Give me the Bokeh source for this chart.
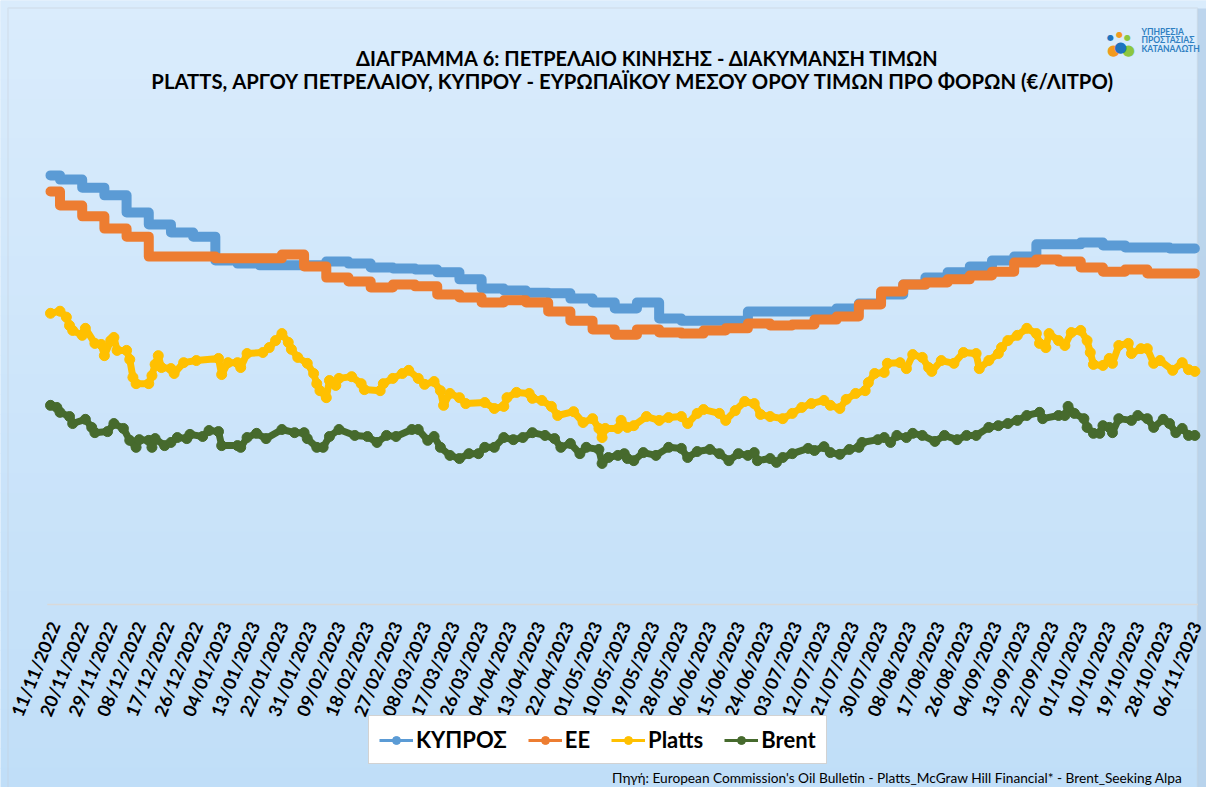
from bokeh.plotting import figure
from bokeh.models import (Range1d, Label, BoxAnnotation, Legend,
                          LegendItem, ColumnDataSource)
from bokeh.embed import file_html
from bokeh.resources import INLINE
from bokeh.core.properties import value

# ---------------- data ----------------
tick_labels = ["11/11/2022", "20/11/2022", "29/11/2022", "08/12/2022", "17/12/2022",
               "26/12/2022", "04/01/2023", "13/01/2023", "22/01/2023", "31/01/2023",
               "09/02/2023", "18/02/2023", "27/02/2023", "08/03/2023", "17/03/2023",
               "26/03/2023", "04/04/2023", "13/04/2023", "22/04/2023", "01/05/2023",
               "10/05/2023", "19/05/2023", "28/05/2023", "06/06/2023", "15/06/2023",
               "24/06/2023", "03/07/2023", "12/07/2023", "21/07/2023", "30/07/2023",
               "08/08/2023", "17/08/2023", "26/08/2023", "04/09/2023", "13/09/2023",
               "22/09/2023", "01/10/2023", "10/10/2023", "19/10/2023", "28/10/2023",
               "06/11/2023"]
tick_step_days = 9
last_day = 361

# weekly Oil Bulletin values (first entry: 11/11-13/11, then weeks starting Monday 14/11/2022)
kypros_weekly = [1.226, 1.214, 1.191, 1.169, 1.120, 1.086, 1.063, 1.051, 0.983, 0.974,
                 0.969, 0.969, 0.969, 0.980, 0.974, 0.963, 0.960, 0.957, 0.949, 0.929,
                 0.903, 0.897, 0.891, 0.889, 0.874, 0.863, 0.846, 0.863, 0.817, 0.811,
                 0.811, 0.811, 0.837, 0.837, 0.837, 0.837, 0.846, 0.860, 0.886, 0.914,
                 0.934, 0.949, 0.966, 0.983, 0.994, 1.029, 1.029, 1.034, 1.026, 1.020,
                 1.020, 1.017, 1.017]
ee_weekly = [1.180, 1.140, 1.109, 1.074, 1.051, 0.994, 0.994, 0.994, 0.989, 0.989,
             0.989, 1.000, 0.966, 0.934, 0.923, 0.906, 0.914, 0.909, 0.886, 0.877,
             0.863, 0.869, 0.863, 0.837, 0.811, 0.786, 0.771, 0.786, 0.777, 0.774,
             0.783, 0.789, 0.803, 0.797, 0.800, 0.814, 0.823, 0.857, 0.894, 0.914,
             0.920, 0.929, 0.940, 0.951, 0.977, 0.986, 0.980, 0.963, 0.951, 0.957,
             0.946, 0.946, 0.946]

# (day since 11/11/2022, €/litre)
platts = [(0, 0.832), (3, 0.838), (5, 0.821), (6, 0.797), (7, 0.783), (10, 0.769), (11, 0.789),
          (14, 0.746), (16, 0.743), (17, 0.711), (19, 0.754), (20, 0.763), (21, 0.726), (24, 0.726),
          (25, 0.700), (26, 0.649), (27, 0.631), (31, 0.631), (32, 0.654), (33, 0.686), (34, 0.711),
          (35, 0.677), (38, 0.674), (39, 0.660), (42, 0.691), (46, 0.697), (53, 0.703), (54, 0.657),
          (56, 0.691), (59, 0.691), (60, 0.677), (62, 0.717), (67, 0.720), (69, 0.734), (71, 0.754),
          (73, 0.774), (75, 0.749), (76, 0.729), (78, 0.706), (81, 0.689), (83, 0.660), (84, 0.631),
          (85, 0.611), (87, 0.591), (88, 0.640), (90, 0.626), (91, 0.646), (95, 0.651), (98, 0.631),
          (99, 0.614), (104, 0.611), (105, 0.631), (108, 0.646), (111, 0.660), (113, 0.669),
          (116, 0.646), (118, 0.629), (121, 0.637), (123, 0.611), (124, 0.569), (126, 0.603),
          (129, 0.591), (131, 0.574), (137, 0.577), (140, 0.560), (143, 0.566), (144, 0.591),
          (147, 0.606), (151, 0.603), (152, 0.589), (155, 0.583), (158, 0.566), (160, 0.540),
          (165, 0.551), (168, 0.520), (171, 0.531), (173, 0.503), (174, 0.477), (175, 0.503),
          (179, 0.503), (180, 0.526), (182, 0.506), (184, 0.511), (188, 0.537), (192, 0.526),
          (195, 0.534), (199, 0.537), (201, 0.517), (204, 0.546), (206, 0.557), (211, 0.546),
          (213, 0.526), (216, 0.554), (219, 0.580), (222, 0.574), (224, 0.543), (227, 0.537),
          (231, 0.531), (234, 0.546), (237, 0.563), (240, 0.574), (244, 0.583), (246, 0.569),
          (249, 0.560), (251, 0.586), (254, 0.603), (257, 0.611), (258, 0.634), (260, 0.660),
          (263, 0.663), (264, 0.689), (268, 0.691), (270, 0.674), (272, 0.714), (275, 0.706),
          (277, 0.677), (278, 0.666), (281, 0.697), (285, 0.689), (288, 0.720), (292, 0.717),
          (293, 0.674), (296, 0.697), (299, 0.717), (300, 0.734), (302, 0.754), (305, 0.769),
          (308, 0.789), (311, 0.774), (312, 0.746), (314, 0.734), (315, 0.774), (318, 0.754),
          (320, 0.740), (322, 0.777), (325, 0.783), (327, 0.754), (328, 0.720), (329, 0.686),
          (332, 0.683), (334, 0.703), (335, 0.689), (337, 0.740), (340, 0.746), (341, 0.717),
          (344, 0.731), (346, 0.731), (348, 0.689), (350, 0.697), (354, 0.669), (357, 0.691),
          (359, 0.671), (361, 0.666)]
brent = [(0, 0.569), (2, 0.563), (3, 0.549), (6, 0.537), (7, 0.517), (11, 0.529), (13, 0.506),
         (14, 0.491), (18, 0.494), (20, 0.517), (23, 0.503), (25, 0.469), (27, 0.449), (28, 0.471),
         (31, 0.469), (32, 0.449), (33, 0.474), (36, 0.454), (38, 0.463), (40, 0.477), (43, 0.474),
         (44, 0.486), (48, 0.480), (50, 0.497), (53, 0.494), (54, 0.454), (59, 0.454), (60, 0.449),
         (62, 0.477), (65, 0.489), (68, 0.474), (73, 0.500), (77, 0.491), (80, 0.491), (81, 0.474),
         (84, 0.449), (86, 0.449), (88, 0.480), (91, 0.500), (96, 0.483), (100, 0.480), (103, 0.463),
         (106, 0.483), (109, 0.480), (114, 0.500), (116, 0.500), (119, 0.469), (121, 0.480),
         (123, 0.449), (126, 0.426), (129, 0.417), (132, 0.431), (135, 0.431), (137, 0.449),
         (140, 0.449), (143, 0.477), (146, 0.471), (149, 0.477), (152, 0.491), (156, 0.483),
         (159, 0.474), (161, 0.449), (164, 0.460), (167, 0.431), (169, 0.449), (173, 0.443),
         (174, 0.403), (176, 0.420), (179, 0.426), (181, 0.431), (182, 0.417), (184, 0.411),
         (187, 0.434), (191, 0.426), (195, 0.449), (199, 0.446), (201, 0.420), (204, 0.437),
         (208, 0.443), (211, 0.431), (214, 0.411), (217, 0.431), (220, 0.426), (222, 0.434),
         (223, 0.411), (227, 0.417), (229, 0.406), (231, 0.420), (234, 0.431), (239, 0.446),
         (241, 0.440), (244, 0.451), (246, 0.434), (249, 0.429), (252, 0.443), (255, 0.449),
         (256, 0.463), (261, 0.471), (263, 0.477), (265, 0.463), (267, 0.483), (270, 0.477),
         (272, 0.489), (275, 0.483), (279, 0.466), (282, 0.483), (286, 0.471), (289, 0.483),
         (292, 0.483), (296, 0.506), (299, 0.511), (302, 0.517), (305, 0.526), (308, 0.540),
         (312, 0.549), (313, 0.531), (318, 0.540), (320, 0.540), (321, 0.566), (323, 0.546),
         (326, 0.531), (327, 0.506), (329, 0.489), (331, 0.489), (332, 0.511), (334, 0.506),
         (335, 0.491), (337, 0.531), (341, 0.526), (343, 0.540), (346, 0.531), (348, 0.506),
         (351, 0.529), (353, 0.517), (355, 0.491), (357, 0.503), (359, 0.483), (361, 0.483)]

series_names = ["ΚΥΠΡΟΣ", "ΕΕ", "Platts", "Brent"]
series_colors = ["#5b9bd5", "#ed7d31", "#ffc000", "#466a2d"]

title_1 = "ΔΙΑΓΡΑΜΜΑ 6: ΠΕΤΡΕΛΑΙΟ ΚΙΝΗΣΗΣ - ΔΙΑΚΥΜΑΝΣΗ ΤΙΜΩΝ"
title_2 = "PLATTS, ΑΡΓΟΥ ΠΕΤΡΕΛΑΙΟΥ, ΚΥΠΡΟΥ - ΕΥΡΩΠΑΪΚΟΥ ΜΕΣΟΥ ΟΡΟΥ ΤΙΜΩΝ ΠΡΟ ΦΟΡΩΝ (€/ΛΙΤΡΟ)"
source_text = ("Πηγή: European Commission's Oil Bulletin - Platts_McGraw Hill Financial* "
               "- Brent_Seeking Alpa")
logo_lines = ["ΥΠΗΡΕΣΙΑ", "ΠΡΟΣΤΑΣΙΑΣ", "ΚΑΤΑΝΑΛΩΤΗ"]

# ---------------- layout ----------------
# Bokeh's page template has no body margin, so the figure starts at the window's corner
W, H = 1206, 787
FONT = "Lato"


def sx(px):
    return px


def sy(py):
    return H - py


# data scale: day 0 at x 50, 3.17 px/day; value 0 at y 604, 350 px per €/l
x_lo = (0 - 50) / 3.17
x_hi = (W - 50) / 3.17
y_lo = (604 - H) / 350
y_hi = (604 - 0) / 350

p = figure(width=W, height=H, output_backend="svg", toolbar_location=None,
           x_range=Range1d(x_lo, x_hi), y_range=Range1d(y_lo, y_hi),
           x_axis_location=None, y_axis_location=None,
           min_border_left=0, min_border_right=0, min_border_top=0, min_border_bottom=0)
p.grid.visible = False
p.outline_line_color = None
p.background_fill_color = "#cde5fa"
p.border_fill_color = "#cde5fa"

# gradient background
top_c = (218, 236, 252)
bot_c = (192, 222, 248)
n = 40
for i in range(n):
    a = H * i / n
    b = H * (i + 1) / n + 1
    t = (i + 0.5) / n
    c = tuple(int(round(top_c[k] + (bot_c[k] - top_c[k]) * t)) for k in range(3))
    p.add_layout(BoxAnnotation(left=0, right=W, top=H - a, bottom=H - b,
                               left_units="screen", right_units="screen",
                               top_units="screen", bottom_units="screen",
                               fill_color="#%02x%02x%02x" % c, fill_alpha=1,
                               line_color=None, level="underlay"))
# right-hand shadow and frame border
p.add_layout(BoxAnnotation(left=sx(1197), right=W, top=sy(8), bottom=0,
                           left_units="screen", right_units="screen",
                           top_units="screen", bottom_units="screen",
                           fill_color="#b5cfe8", fill_alpha=0.8, line_color=None,
                           level="underlay"))
p.add_layout(BoxAnnotation(left=sx(7.5), right=sx(1197), top=sy(7.5), bottom=-2,
                           left_units="screen", right_units="screen",
                           top_units="screen", bottom_units="screen",
                           fill_alpha=0, line_color="#c4c9cf", line_width=1.5,
                           level="underlay"))

# x axis line and rotated tick labels
ticks = [tick_step_days * i for i in range(len(tick_labels))]
p.segment(x0=[-1], y0=[0], x1=[last_day + 1], y1=[0], line_color="#d9d9d9", line_width=1.5)
p.text(x=ticks, y=[0] * len(ticks), text=tick_labels, angle=1.18,
       text_align="right", text_baseline="middle", x_offset=4, y_offset=18,
       text_font=value(FONT), text_font_style="bold", text_font_size="18px",
       text_color="#000000")

# weekly step series
week_days = [0] + [3 + 7 * k for k in range(len(kypros_weekly) - 1)]
for vals, col in [(kypros_weekly, series_colors[0]), (ee_weekly, series_colors[1])]:
    xs = week_days + [last_day]
    ys = vals + [vals[-1]]
    p.step(xs, ys, mode="after", line_color=col, line_width=10,
           line_join="round", line_cap="round")

# daily market series
for data, col in [(platts, series_colors[2]), (brent, series_colors[3])]:
    xs = [d for d, v in data]
    ys = [v for d, v in data]
    p.line(xs, ys, line_color=col, line_width=7, line_join="round", line_cap="round")
    p.scatter(xs, ys, size=10, fill_color=col, line_color=col)

# legend (off-screen dummy renderers give thin legend glyphs)
items = []
for name, col in zip(series_names, series_colors):
    src = ColumnDataSource(dict(x=[x_lo - 50], y=[y_lo - 5]))
    r1 = p.line("x", "y", source=src, line_color=col, line_width=3)
    r2 = p.scatter("x", "y", source=src, size=7, fill_color=col, line_color=col)
    items.append(LegendItem(label=name, renderers=[r1, r2]))
legend = Legend(items=items, orientation="horizontal", location=(sx(368), sy(764)),
                label_text_font=FONT, label_text_font_style="bold",
                label_text_font_size="22px", label_text_color="#000000",
                glyph_width=34, glyph_height=20, label_standoff=3, spacing=21,
                padding=10, margin=0, background_fill_color="#ffffff",
                background_fill_alpha=1, border_line_color="#a6a6a6",
                border_line_width=1)
p.add_layout(legend)

# titles
p.add_layout(Label(x=sx(647), y=sy(57), x_units="screen", y_units="screen",
                   text=title_1, text_align="center", text_baseline="alphabetic",
                   text_font=FONT, text_font_style="bold", text_font_size="20px",
                   text_color="#000000"))
p.add_layout(Label(x=sx(632), y=sy(80), x_units="screen", y_units="screen",
                   text=title_2, text_align="center", text_baseline="alphabetic",
                   text_font=FONT, text_font_style="bold", text_font_size="20.3px",
                   text_color="#000000"))

# source
p.add_layout(Label(x=sx(1182), y=sy(777), x_units="screen", y_units="screen",
                   text=source_text, text_align="right", text_baseline="alphabetic",
                   text_font=FONT, text_font_size="13.7px", text_color="#000000"))

# logo
for i, line in enumerate(logo_lines):
    p.add_layout(Label(x=sx(1141), y=sy(31 + 8.5 * i), x_units="screen", y_units="screen",
                       text=line, text_align="left", text_baseline="alphabetic",
                       text_font=FONT, text_font_style="bold", text_font_size="8.5px",
                       text_color="#2f7fc1"))
for (lx, ly, sz, col) in [(1113, 49, "15px", "#f39a1e"), (1128, 49, "15px", "#8cc63f"),
                          (1120, 46, "15px", "#1e73be"), (1110, 37, "8px", "#1e73be"),
                          (1119, 34, "8px", "#f39a1e"), (1127, 37, "8px", "#8cc63f")]:
    p.add_layout(Label(x=sx(lx), y=sy(ly), x_units="screen", y_units="screen",
                       text="●", text_align="center", text_baseline="alphabetic",
                       text_font="DejaVu Sans", text_font_size=sz, text_color=col))

open("out.html", "w").write(file_html(p, INLINE))
